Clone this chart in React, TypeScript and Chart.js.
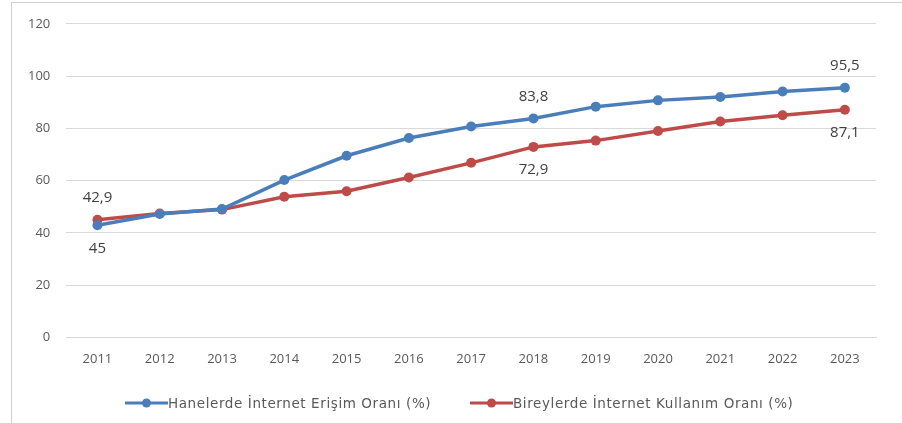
import React, { useEffect, useRef } from "react";
import { Chart, registerables } from "chart.js";

Chart.register(...registerables);

const years = ["2011","2012","2013","2014","2015","2016","2017","2018","2019","2020","2021","2022","2023"];
const haneler = [42.9, 47.2, 49.1, 60.2, 69.5, 76.3, 80.7, 83.8, 88.3, 90.7, 92.0, 94.1, 95.5];
const bireyler = [45.0, 47.4, 48.9, 53.8, 55.9, 61.2, 66.8, 72.9, 75.3, 79.0, 82.6, 85.0, 87.1];
const yTicks = [0, 20, 40, 60, 80, 100, 120];
const blueLabelIdx = [0, 7, 12];
const redLabelIdx = [0, 7, 12];
const seriesNames = ["Hanelerde İnternet Erişim Oranı (%)", "Bireylerde İnternet Kullanım Oranı (%)"];

const BLUE = "#4a7ebb";
const RED = "#be4b48";
const FONT = "'Open Sans', 'Noto Sans', sans-serif";

const fmt = (v: number) => (Number.isInteger(v) ? String(v) : v.toFixed(1).replace(".", ","));

const labelPlugin = {
  id: "valLabels",
  afterDatasetsDraw(chart: any) {
    const ctx = chart.ctx;
    ctx.save();
    ctx.font = `15px ${FONT}`;
    ctx.fillStyle = "#404040";
    ctx.textAlign = "center";
    ctx.textBaseline = "middle";
    const conf = [
      { ds: 0, idx: blueLabelIdx, dy: -22 },
      { ds: 1, idx: redLabelIdx, dy: 23 },
    ];
    conf.forEach((c) => {
      const meta = chart.getDatasetMeta(c.ds);
      const other = chart.getDatasetMeta(1 - c.ds);
      const data = chart.data.datasets[c.ds].data;
      c.idx.forEach((i: number) => {
        const pt = meta.data[i];
        const op = other.data[i];
        const y = c.dy < 0 ? Math.min(pt.y, op.y) + c.dy : Math.max(pt.y, op.y) + c.dy;
        ctx.fillText(fmt(data[i]), pt.x, y);
      });
    });
    ctx.restore();
  },
};

function LegendItem({ left, color, text }: { left: number; color: string; text: string }) {
  return (
    <div
      style={{
        position: "absolute",
        left,
        top: 394,
        height: 18,
        display: "flex",
        alignItems: "center",
        whiteSpace: "nowrap",
      }}
    >
      <svg width={43} height={12} style={{ display: "block" }}>
        <line x1={0} y1={6} x2={43} y2={6} stroke={color} strokeWidth={3} />
        <circle cx={21.5} cy={6} r={4.5} fill={color} />
      </svg>
      <span
        style={{
          fontFamily: "'DejaVu Sans', sans-serif",
          fontSize: 13.5,
          letterSpacing: 0.6,
          color: "#595959",
          lineHeight: "18px",
        }}
      >
        {text}
      </span>
    </div>
  );
}

export default function App() {
  const ref = useRef<HTMLCanvasElement>(null);
  useEffect(() => {
    document.body.style.margin = "0";
    const chart = new Chart(ref.current!, {
      type: "line",
      data: {
        labels: years,
        datasets: [
          {
            label: seriesNames[0],
            data: haneler,
            borderColor: BLUE,
            backgroundColor: BLUE,
            borderWidth: 3.5,
            pointRadius: 5,
            pointBackgroundColor: BLUE,
            pointBorderWidth: 0,
          },
          {
            label: seriesNames[1],
            data: bireyler,
            borderColor: RED,
            backgroundColor: RED,
            borderWidth: 3.5,
            pointRadius: 5,
            pointBackgroundColor: RED,
            pointBorderWidth: 0,
          },
        ],
      },
      options: {
        animation: false,
        responsive: false,
        maintainAspectRatio: false,
        layout: { padding: { left: 12, right: 26, top: 17, bottom: 50 } },
        plugins: {
          tooltip: { enabled: false },
          legend: { display: false },
        },
        scales: {
          x: {
            offset: true,
            grid: { display: false },
            border: { display: true, color: "#d9d9d9", width: 1 },
            ticks: { font: { family: FONT, size: 13 }, color: "#595959", padding: 6 },
          },
          y: {
            min: 0,
            max: 120,
            afterBuildTicks: (ax: any) => {
              ax.ticks = yTicks.map((v) => ({ value: v }));
            },
            grid: { color: "#d9d9d9", lineWidth: 1, drawTicks: false },
            border: { display: false },
            ticks: { font: { family: FONT, size: 13 }, color: "#595959", padding: 16 },
          },
        },
      },
      plugins: [labelPlugin],
    } as any);
    return () => chart.destroy();
  }, []);
  return (
    <div style={{ position: "relative", width: 902, height: 423, background: "#fff" }}>
      <div
        style={{
          position: "absolute",
          left: 11,
          top: 2,
          right: 0,
          bottom: 0,
          borderLeft: "1px solid #d0d0d0",
          borderTop: "1px solid #d0d0d0",
        }}
      />
      <canvas ref={ref} width={902} height={423} style={{ position: "absolute", left: 0, top: 0 }} />
      <LegendItem left={125} color={BLUE} text={seriesNames[0]} />
      <LegendItem left={470} color={RED} text={seriesNames[1]} />
    </div>
  );
}
